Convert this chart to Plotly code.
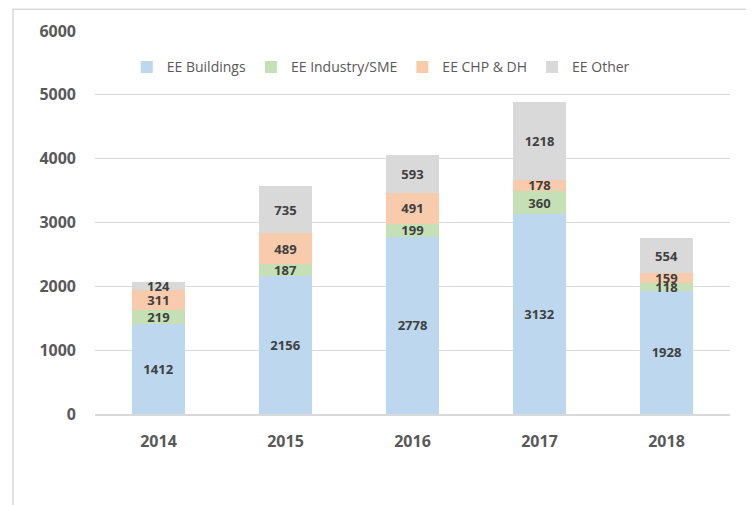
import plotly.graph_objects as go

years = ["2014", "2015", "2016", "2017", "2018"]
buildings = [1412, 2156, 2778, 3132, 1928]
industry = [219, 187, 199, 360, 118]
chp = [311, 489, 491, 178, 159]
other = [124, 735, 593, 1218, 554]

series = [
    ("EE Buildings", buildings, "#BDD7EE"),
    ("EE Industry/SME", industry, "#C5E0B4"),
    ("EE CHP & DH", chp, "#F8CBAD"),
    ("EE Other", other, "#D9D9D9"),
]

FONT = "Open Sans"
fig = go.Figure()
for name, vals, col in series:
    fig.add_trace(go.Bar(
        x=years, y=vals, name=name, marker=dict(color=col, line=dict(width=0)),
        text=[str(v) for v in vals], textposition="inside", insidetextanchor="middle",
        constraintext="none", cliponaxis=False,
        textfont=dict(family=FONT, size=13, color="#404040", weight="bold"),
    ))

fig.update_layout(
    barmode="stack", bargap=0.58,
    width=754, height=505,
    margin=dict(l=87, r=32, t=19, b=99),
    paper_bgcolor="white", plot_bgcolor="white",
    font=dict(family=FONT, color="#595959"),
    legend=dict(orientation="h", x=0.45, xanchor="center", y=0.905, yanchor="middle",
                font=dict(family=FONT, size=14, color="#595959"),
                bgcolor="rgba(0,0,0,0)", traceorder="normal", itemwidth=30),
    showlegend=True,
    xaxis=dict(showgrid=False, showline=True, linecolor="#D9D9D9", linewidth=1.5,
               ticks="", ticklabelstandoff=12,
               tickfont=dict(family=FONT, size=16, color="#595959", weight="bold")),
    yaxis=dict(range=[0, 6000], tickvals=[0, 1000, 2000, 3000, 4000, 5000, 6000],
               showgrid=True, gridcolor="#D9D9D9", gridwidth=1.3, zeroline=False,
               ticks="", ticklabelstandoff=18,
               tickfont=dict(family=FONT, size=16, color="#595959", weight="bold")),
    uniformtext=dict(mode="show", minsize=13),
)
fig.add_shape(type="rect", xref="paper", yref="paper",
              x0=-82/635, x1=1 + 20/635, y0=-110/387, y1=1 + 22/387,
              line=dict(color="#D9D9D9", width=1.5), fillcolor="rgba(0,0,0,0)", layer="below")
fig.write_html("out.html")
